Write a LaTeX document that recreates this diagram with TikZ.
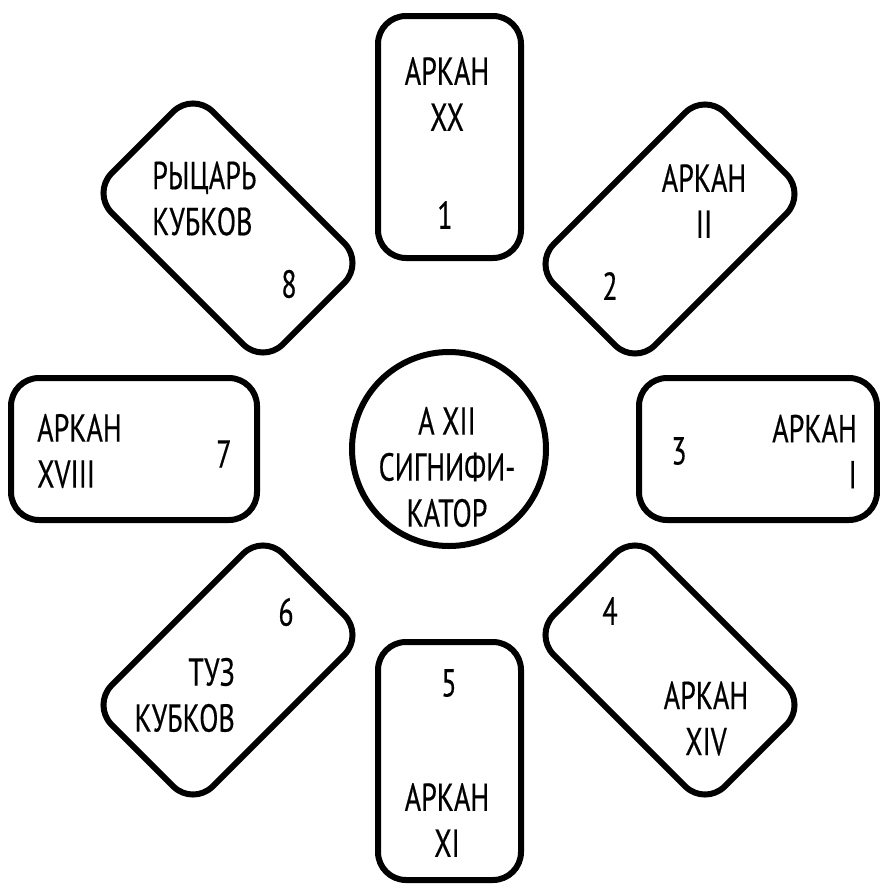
\documentclass[tikz,border=0pt]{standalone}
\usepackage{fontspec}
\setmainfont[FakeStretch=0.72, FakeBold=0.4]{PT Sans}
\begin{document}
\begin{tikzpicture}[x=1pt,y=-1pt,
  card/.style={draw=black, line width=6pt, rounded corners=28pt, minimum width=143pt, minimum height=242pt, inner sep=0pt},
  lbl/.style={font=\fontsize{39}{46}\selectfont, inner sep=0pt, text=black}]
\useasboundingbox (0,0) rectangle (880,889);
% cards
\node[card] (c1) at (449.5,137) {};
\node[card, minimum height=238pt] (c5) at (449.5,761) {};
\node[card, minimum width=246pt, minimum height=142pt] (c7) at (134,449) {};
\node[card, minimum width=238pt, minimum height=142pt] (c3) at (758,449) {};
\node[card, rotate=45] (c8) at (228,228) {};
\node[card, rotate=-45] (c2) at (670,229) {};
\node[card, rotate=-45] (c6) at (228,670) {};
\node[card, rotate=45] (c4) at (670,670) {};
\node[draw=black, line width=6pt, circle, minimum size=194pt, inner sep=0pt] (sig) at (449,449) {};
% labels
\node[lbl, align=center] (t1) at (447,94) {АРКАН\\XX};
\node[lbl] (n1) at (445,215) {1};
\node[lbl, align=center] (t2) at (704,201) {АРКАН\\II};
\node[lbl] (n2) at (610,286) {2};
\node[lbl, align=right, anchor=east] (t3) at (857,451.5) {АРКАН\\I};
\node[lbl] (n3) at (679,451) {3};
\node[lbl, align=center] (t4) at (706,718.5) {АРКАН\\XIV};
\node[lbl] (n4) at (610,611) {4};
\node[lbl] (n5) at (449,683) {5};
\node[lbl, align=center] (t5) at (447,820) {АРКАН\\XI};
\node[lbl, align=right, anchor=east] (t6) at (235,695) {ТУЗ\\КУБКОВ};
\node[lbl] (n6) at (286,612) {6};
\node[lbl, align=left, anchor=west] (t7) at (37,451) {АРКАН\\XVIII};
\node[lbl] (n7) at (224,454) {7};
\node[lbl, align=left, anchor=west] (t8) at (152,198.5) {РЫЦАРЬ\\КУБКОВ};
\node[lbl] (n8) at (289,284) {8};
\node[lbl, align=center] (ts) at (447,467) {А XII\\СИГНИФИ-\\КАТОР};
\end{tikzpicture}
\end{document}
